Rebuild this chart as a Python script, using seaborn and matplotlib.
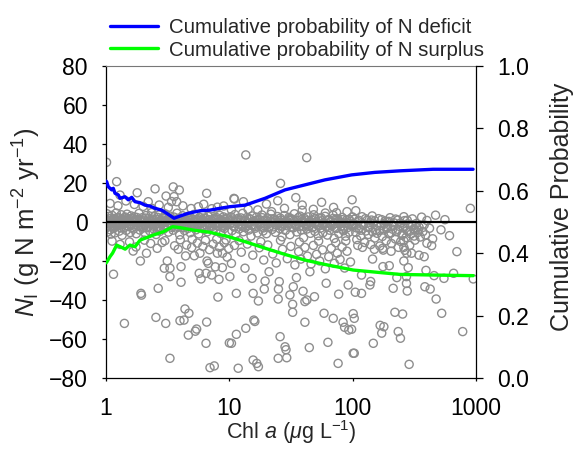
import matplotlib.pyplot as plt
import seaborn as sns
from matplotlib.ticker import NullLocator

# ──────────────────────────────────────────────
# Data
# ──────────────────────────────────────────────

# dense band of lakes around N_I = 0
band_1_10 = [
    (1.00, 1.5), (1.01, -2.8), (1.02, 4.2), (1.03, -5.1), (1.04, 0.3), (1.05, -1.7), (1.06, 2.9), (1.08, -4.0),
    (1.09, 0.9), (1.10, -6.2), (1.12, 3.4), (1.13, -0.8), (1.15, -3.3), (1.16, 1.8), (1.18, -5.6), (1.19, 0.2),
    (1.21, 4.6), (1.22, -2.1), (1.24, -0.4), (1.26, 2.4), (1.28, -4.7), (1.30, 1.1), (1.31, -1.5), (1.33, 3.7),
    (1.35, -6.8), (1.37, 0.6), (1.39, -2.9), (1.41, 2.0), (1.43, -0.9), (1.46, -4.3), (1.48, 4.0), (1.50, 0.1),
    (1.53, -2.4), (1.55, 1.6), (1.57, -5.4), (1.60, 3.1), (1.62, -1.2), (1.65, 0.7), (1.67, -3.6), (1.70, 2.6),
    (1.73, -0.3), (1.76, -6.0), (1.79, 1.3), (1.82, -2.0), (1.85, 4.4), (1.88, -4.1), (1.91, 0.4), (1.94, -1.6),
    (1.97, 2.2), (2.01, -3.0), (2.04, 1.0), (2.08, -5.7), (2.11, 3.3), (2.15, -0.6), (2.19, -2.6), (2.22, 1.9),
    (2.26, -4.5), (2.30, 0.5), (2.34, 4.8), (2.38, -1.4), (2.42, -3.4), (2.46, 2.7), (2.51, -0.1), (2.55, -6.4),
    (2.60, 1.4), (2.64, -2.2), (2.69, 3.6), (2.74, -4.8), (2.79, 0.8), (2.84, -1.0), (2.89, 2.3), (2.94, -3.7),
    (2.99, 0.0), (3.04, 4.1), (3.10, -2.5), (3.15, 1.2), (3.21, -5.2), (3.26, -0.7), (3.32, 3.0), (3.38, -1.9),
    (3.44, 0.6), (3.50, -4.2), (3.56, 2.5), (3.63, -0.2), (3.69, -3.1), (3.76, 4.5), (3.82, -1.1), (3.89, 1.7),
    (3.96, -6.6), (4.03, 0.3), (4.10, -2.7), (4.18, 3.2), (4.25, -0.5), (4.33, -4.4), (4.40, 1.5), (4.48, -1.8),
    (4.56, 2.8), (4.65, -3.2), (4.73, 0.9), (4.82, -5.5), (4.90, 2.1), (4.99, -0.9), (5.08, -2.3), (5.17, 3.9),
    (5.26, 0.2), (5.36, -4.0), (5.45, 1.3), (5.55, -1.3), (5.65, -6.1), (5.75, 2.4), (5.85, -0.4), (5.96, -2.8),
    (6.06, 3.5), (6.17, 0.7), (6.28, -3.9), (6.40, 1.8), (6.51, -1.5), (6.63, -5.0), (6.75, 2.9), (6.87, -0.6),
    (6.99, -2.4), (7.12, 4.3), (7.24, 0.4), (7.37, -3.5), (7.51, 1.6), (7.64, -1.0), (7.78, -4.6), (7.92, 2.2),
    (8.06, -0.3), (8.20, -2.0), (8.35, 3.4), (8.50, -5.8), (8.65, 0.8), (8.81, -1.7), (8.97, 2.6), (9.13, -3.3),
    (9.29, 0.1), (9.46, -0.8), (9.63, 1.9), (9.80, -4.9), (9.97, 0.5),
]

band_10_100 = [
    (10.1, -1.2), (10.3, 2.7), (10.5, -4.4), (10.7, 0.6), (10.9, -2.5), (11.1, 3.8), (11.3, -6.3), (11.6, -0.2),
    (11.8, 1.9), (12.0, -3.6), (12.3, 0.9), (12.5, -1.8), (12.8, 4.4), (13.0, -5.0), (13.3, 0.3), (13.5, -2.9),
    (13.8, 2.2), (14.1, -0.7), (14.4, -4.1), (14.7, 1.4), (15.0, -7.2), (15.3, 3.1), (15.6, -1.4), (15.9, 0.0),
    (16.2, -3.2), (16.6, 2.5), (16.9, -5.6), (17.3, -0.5), (17.6, 1.2), (18.0, -2.2), (18.4, 3.6), (18.8, -4.6),
    (19.2, 0.8), (19.6, -1.0), (20.0, -6.0), (20.4, 2.0), (20.8, -2.7), (21.3, 0.4), (21.7, 4.0), (22.2, -3.8),
    (22.6, -0.3), (23.1, 1.7), (23.6, -5.3), (24.1, -1.6), (24.6, 2.8), (25.1, -0.1), (25.7, -3.4), (26.2, 1.0),
    (26.8, -7.6), (27.3, -1.1), (27.9, 3.3), (28.5, -4.3), (29.1, 0.5), (29.7, -2.0), (30.4, 2.4), (31.0, -6.5),
    (31.7, -0.6), (32.3, 1.5), (33.0, -3.0), (33.7, 4.2), (34.5, -1.3), (35.2, -5.1), (36.0, 0.7), (36.7, -2.4),
    (37.5, 3.0), (38.3, -4.0), (39.1, 0.2), (40.0, -8.0), (40.8, 1.8), (41.7, -1.7), (42.6, -3.6), (43.5, 2.6),
    (44.5, -0.4), (45.4, -5.8), (46.4, 1.1), (47.4, -2.6), (48.4, 3.7), (49.4, -4.8), (50.5, 0.0), (51.6, -1.5),
    (52.7, -7.0), (53.8, 2.1), (55.0, -3.1), (56.2, 0.6), (57.4, -5.5), (58.6, -0.9), (59.8, 2.9), (61.1, -2.3),
    (62.4, -6.7), (63.8, 1.3), (65.1, -4.2), (66.5, 0.3), (68.0, -1.9), (69.4, 3.5), (70.9, -8.4), (72.5, -0.7),
    (74.0, -3.3), (75.6, 1.6), (77.2, -5.9), (78.9, 0.1), (80.6, -2.1), (82.3, 2.3), (84.1, -4.5), (85.9, -0.5),
    (87.7, -7.3), (89.6, 1.0), (91.5, -2.8), (93.5, -5.2), (95.5, 0.4), (97.5, -1.4), (99.6, 2.6), (11.5, 1.0),
    (13.9, -1.9), (16.4, 0.8), (19.0, -3.0), (22.9, 1.2), (26.5, -2.2), (30.8, 0.9), (34.8, -2.0), (38.8, 1.4),
    (44.0, -2.3), (49.9, 1.9), (56.6, -1.1), (64.5, -2.7), (73.2, 1.5), (83.5, -3.8), (94.2, -0.9),
]

band_100_1000 = [
    (101, -2.1), (103, 1.4), (106, -5.3), (108, -9.0), (111, 0.2), (113, -3.4), (116, -7.1), (119, 2.7),
    (122, -1.2), (125, -10.5), (128, -4.6), (131, 0.9), (134, -6.4), (137, -2.5), (140, -11.6), (144, 3.1),
    (147, -0.6), (151, -8.2), (154, -3.9), (158, -5.8), (162, 1.7), (166, -12.3), (170, -1.8), (174, -7.4),
    (178, -4.1), (183, 0.5), (187, -9.6), (192, -2.9), (196, -6.0), (201, 2.2), (206, -11.0), (211, -3.7),
    (216, -0.4), (222, -8.7), (227, -5.0), (233, 1.0), (239, -2.2), (245, -10.0), (251, -6.8), (257, -3.0),
    (263, 0.7), (270, -8.0), (276, -4.4), (283, -1.0), (290, -12.0), (297, -6.2), (305, 1.6), (312, -3.6),
    (320, -9.3), (328, -0.8), (336, -5.4), (345, -2.6), (353, -7.7), (362, 2.5), (371, -4.9), (380, -1.5),
    (390, -6.6), (400, 0.8), (420, -3.2), (445, -8.6), (470, 3.5), (520, -4.0), (560, 1.2), (610, -7.0),
    (150, -14.0), (175, -13.5), (205, -15.0), (235, -13.0), (265, -14.5), (300, -16.0), (120, -13.0), (110, -12.0),
]

# the solid grey core of the band, |N_I| of a few units
band_core = [
    (1.00, -0.6), (1.02, 0.9), (1.04, -2.2), (1.07, 1.7), (1.09, -1.1), (1.11, 0.4), (1.14, -2.6), (1.17, 1.2),
    (1.20, -0.9), (1.23, 2.1), (1.27, -1.9), (1.29, 0.1), (1.32, -3.1), (1.36, 1.4), (1.40, -0.5), (1.44, 2.5),
    (1.47, -2.0), (1.52, 0.8), (1.56, -1.0), (1.61, 1.9), (1.64, -2.8), (1.69, 0.3), (1.74, -1.4), (1.78, 2.3),
    (1.83, -0.7), (1.87, 1.0), (1.92, -2.4), (1.98, 0.6), (2.03, -1.3), (2.09, 2.0), (2.14, -3.0), (2.20, 0.2),
    (2.27, -0.9), (2.33, 1.6), (2.40, -2.1), (2.47, 0.9), (2.53, -1.2), (2.61, 2.4), (2.67, -2.9), (2.76, 0.4),
    (2.82, -0.8), (2.91, 1.8), (2.97, -2.0), (3.07, 0.7), (3.13, -1.6), (3.24, 2.2), (3.30, -0.4), (3.41, -2.7),
    (3.47, 1.1), (3.59, -1.0), (3.66, 0.1), (3.79, -2.3), (3.86, 1.9), (3.99, -0.6), (4.07, -1.7), (4.21, 1.0),
    (4.29, -2.9), (4.44, 0.5), (4.52, -1.2), (4.69, 2.3), (4.78, -0.3), (4.94, -2.0), (5.03, 1.4), (5.21, -1.1),
    (5.31, 0.6), (5.50, -2.6), (5.60, 1.7), (5.80, -0.7), (5.91, 0.3), (6.11, -1.9), (6.22, 2.0), (6.46, -0.2),
    (6.57, -2.5), (6.81, 1.2), (6.93, -1.0), (7.18, 0.6), (7.30, -2.2), (7.57, 2.1), (7.71, -0.5), (7.99, -1.8),
    (8.13, 1.3), (8.42, -0.9), (8.58, 0.2), (8.89, -2.7), (9.05, 1.6), (9.37, -0.4), (9.54, -1.6), (9.89, 1.1),
    (10.2, -0.6), (10.6, 1.5), (11.0, -2.0), (11.4, 0.2), (11.9, -1.1), (12.4, 2.1), (12.9, -2.6), (13.4, 0.7),
    (13.9, -0.4), (14.5, 1.8), (15.1, -1.7), (15.7, 0.5), (16.3, -2.4), (17.0, 1.1), (17.7, -0.9), (18.5, 2.2),
    (19.3, -1.9), (20.1, 0.3), (21.0, -0.8), (21.9, 1.6), (22.8, -2.5), (23.8, 0.8), (24.8, -1.2), (25.9, 2.0),
    (27.0, -2.1), (28.2, 0.1), (29.4, -0.7), (30.7, 1.7), (32.0, -2.8), (33.4, 0.6), (34.9, -1.4), (36.4, 2.3),
    (38.0, -0.3), (39.7, -2.2), (41.4, 1.0), (43.2, -1.0), (45.1, 0.4), (47.1, -2.9), (49.2, 1.5), (51.3, -0.6),
    (53.6, -1.8), (55.9, 2.0), (58.4, -0.2), (61.0, -2.4), (63.6, 0.9), (66.4, -1.3), (69.3, 1.8), (72.4, -3.0),
    (75.5, 0.2), (78.9, -1.0), (82.3, 1.2), (85.9, -2.6), (89.7, -0.4), (93.6, 1.4), (97.7, -1.9), (102, -0.8),
    (107, -3.0), (112, 0.9), (117, -4.2), (122, -1.6), (127, 1.7), (133, -2.8), (139, -0.3), (145, -5.0),
    (151, 0.6), (158, -2.0), (165, -4.4), (172, 1.2), (180, -1.1), (188, -3.4), (196, 0.3), (205, -5.6),
    (214, -1.9), (223, 1.5), (233, -3.8), (243, -0.6), (254, -6.0), (265, -2.3), (277, 0.9), (289, -4.8),
    (302, -1.4), (315, -7.2), (329, -2.9),
]

# scattered lakes above the band
surplus_outliers = [
    (1.01, 30.6), (1.22, 20.7), (1.79, 15.0), (2.5, 17.0), (3.51, 18.0), (3.93, 16.4), (3.56, 13.0), (3.07, 13.3),
    (6.55, 14.7), (2.2, 10.4), (1.3, 13.8), (3.74, 10.4), (13.6, 34.4), (42.4, 33.0), (26.0, 19.8), (11.0, 11.8),
    (13.0, 10.4), (20.0, 9.2), (24.7, 10.9), (34.6, 12.5), (39.0, 8.7), (56.0, 10.1), (99.0, 11.4), (39.0, 6.0),
    (14.2, 6.5), (74.0, 4.8), (106, 5.8), (900, 7.0), (260, 2.7), (10.9, 12.1), (142, 1.0), (190, 0.2),
    (1.08, 9.5), (1.25, 8.3), (1.45, 10.8), (1.7, 9.0), (2.0, 8.0), (2.35, 7.0), (2.7, 8.7), (3.2, 7.5),
    (3.4, 10.5), (4.2, 8.3), (4.9, 6.9), (5.6, 7.8), (6.2, 9.1), (7.2, 6.8), (8.0, 7.6), (9.0, 8.2),
    (17.0, 6.2), (22.0, 5.3), (60.0, 4.6), (90.0, 5.3), (10.4, 6.2), (28.0, 7.0), (48.0, 6.5), (70.0, 7.5),
]

# scattered lakes below the band
deficit_outliers = [
    (1.15, -26.8), (1.92, -36.6), (1.94, -37.5), (1.41, -52.0), (2.65, -34.0), (2.54, -48.9), (3.05, -52.0),
    (3.3, -69.9), (3.98, -50.6), (4.37, -44.6), (4.7, -46.8), (4.29, -50.3), (4.65, -58.0), (5.43, -54.9),
    (5.3, -56.0), (6.55, -51.3), (6.47, -62.2), (6.97, -74.7), (7.55, -73.8), (8.08, -38.5), (4.06, -30.9),
    (3.3, -28.0), (2.97, -23.7), (3.3, -23.7), (4.06, -22.9), (5.7, -26.3), (5.9, -29.2), (6.47, -26.3),
    (7.2, -27.2), (8.25, -29.4), (8.78, -23.4), (7.7, -23.0), (6.75, -21.2), (3.14, -20.0), (2.13, -16.0),
    (1.9, -20.0), (1.66, -14.9), (4.42, -17.4), (5.2, -17.3), (5.78, -16.0), (6.6, -20.0), (8.0, -16.0),
    (8.8, -16.0), (9.6, -18.0), (10.1, -28.0), (10.0, -62.0),
    (1.3, -11.5), (1.55, -10.2), (1.75, -12.8), (2.3, -11.0), (2.6, -13.5), (2.85, -10.5), (3.6, -12.2),
    (3.85, -14.0), (4.5, -11.8), (4.95, -13.1), (5.5, -10.8), (6.1, -12.5), (6.9, -14.2), (7.4, -11.3),
    (8.3, -12.9), (9.1, -10.6), (9.9, -13.6), (1.12, -9.8), (2.05, -9.3), (3.0, -9.6), (4.0, -9.1),
    (5.0, -8.9), (6.4, -9.4), (7.9, -8.8), (9.4, -9.2),
    (11.4, -36.6), (10.4, -62.2), (11.4, -57.6), (13.6, -54.5), (11.8, -75.0), (15.6, -70.8), (17.2, -74.2),
    (16.7, -72.5), (15.8, -50.3), (16.1, -51.0), (15.6, -36.6), (17.2, -40.5), (15.3, -28.9), (19.5, -30.3),
    (19.2, -34.4), (24.9, -39.5), (25.4, -30.6), (31.0, -37.4), (32.6, -42.2), (32.6, -46.3), (33.0, -33.2),
    (35.0, -28.5), (41.0, -40.8), (42.5, -40.0), (49.0, -38.3), (41.0, -51.4), (25.8, -58.8), (28.3, -64.0),
    (28.8, -65.5), (24.9, -69.9), (29.2, -69.6), (44.5, -64.4), (58.6, -46.8), (63.0, -61.7), (69.6, -49.4),
    (76.2, -72.5), (83.6, -51.4), (86.0, -54.0), (93.0, -55.4), (101.0, -67.3), (101.0, -47.0), (92.0, -32.3),
    (77.0, -37.0), (61.0, -31.4), (45.0, -25.5), (39.6, -35.5), (25.0, -34.4), (21.0, -25.5), (13.4, -23.7),
    (10.4, -21.2),
    (11.0, -12.0), (12.5, -15.5), (14.0, -11.3), (15.5, -17.0), (17.5, -13.2), (19.0, -19.5), (20.5, -11.8),
    (22.5, -16.4), (24.0, -21.0), (27.0, -14.0), (29.5, -18.8), (31.5, -12.5), (34.0, -22.0), (36.5, -15.2),
    (38.0, -19.0), (41.0, -13.0), (43.0, -17.5), (46.0, -21.5), (48.0, -12.0), (51.0, -16.6), (54.0, -20.0),
    (57.0, -14.3), (60.0, -24.0), (64.0, -17.8), (67.0, -13.5), (71.0, -21.2), (75.0, -16.0), (79.0, -19.2),
    (82.0, -12.8), (86.0, -23.6), (90.0, -15.0), (96.0, -20.5), (12.0, -9.5), (18.0, -10.1), (26.0, -9.4),
    (37.0, -10.3), (53.0, -9.8), (73.0, -10.6), (88.0, -9.7),
    (103, -67.3), (103, -49.4), (98, -55.0), (147, -62.2), (172, -57.0), (179, -53.7), (234, -56.2),
    (244, -59.6), (287, -73.0), (220, -46.3), (254, -47.2), (527, -46.8), (780, -56.2), (475, -39.5),
    (213, -34.0), (277, -35.4), (273, -31.5), (273, -28.0), (385, -33.2), (425, -34.4), (393, -24.8),
    (228, -28.5), (282, -23.4), (457, -27.5), (550, -28.9), (658, -26.3), (950, -29.2), (138, -32.3),
    (140, -30.5), (105, -36.0), (118, -27.2), (176, -22.9), (198, -22.4), (260, -20.0), (700, -15.2),
    (437, -12.1), (400, -10.9), (340, -4.1), (320, -4.1), (380, -17.8), (345, -17.0), (275, -16.0),
    (260, -9.6), (260, -13.0), (177, -14.4), (145, -19.0), (167, -53.0), (118, -36.6),
]

# cumulative probability curves (right axis)
deficit_chl = [1.0, 1.013, 1.044, 1.112, 1.146, 1.183, 1.258, 1.298, 1.426, 1.516, 1.616, 1.718, 1.886,
               2.07, 2.27, 2.495, 2.83, 3.10, 3.56, 3.98, 4.65, 5.78, 6.97, 8.4, 10.1, 13.4, 19.5,
               28.3, 41, 59.5, 98, 151, 242, 449, 947]
deficit_prob = [0.631, 0.629, 0.613, 0.603, 0.608, 0.592, 0.587, 0.576, 0.581, 0.571, 0.579, 0.565, 0.562,
                0.554, 0.551, 0.544, 0.538, 0.528, 0.512, 0.519, 0.528, 0.536, 0.538, 0.544, 0.549, 0.554,
                0.576, 0.603, 0.619, 0.635, 0.651, 0.659, 0.664, 0.669, 0.669]

surplus_chl = [1.0, 1.013, 1.078, 1.13, 1.22, 1.30, 1.43, 1.565, 1.72, 1.89, 2.14, 2.42, 2.92, 3.47,
               3.98, 5.1, 6.97, 9.8, 13.4, 19.5, 28.3, 41, 59.5, 101, 138, 242, 450, 950]
surplus_prob = [0.369, 0.371, 0.389, 0.400, 0.426, 0.421, 0.413, 0.426, 0.421, 0.442, 0.450, 0.458, 0.469,
                0.485, 0.482, 0.474, 0.467, 0.453, 0.437, 0.416, 0.396, 0.378, 0.364, 0.346, 0.341,
                0.332, 0.330, 0.328]

x_ticks = [1, 10, 100, 1000]
x_tick_labels = ["1", "10", "100", "1000"]
y_ticks = [-80, -60, -40, -20, 0, 20, 40, 60, 80]
p_ticks = [0.0, 0.2, 0.4, 0.6, 0.8, 1.0]
p_tick_labels = ["0.0", "0.2", "0.4", "0.6", "0.8", "1.0"]

# ──────────────────────────────────────────────
# Figure
# ──────────────────────────────────────────────

sns.set_theme(style="ticks")
plt.rcParams["font.family"] = ["Liberation Sans", "DejaVu Sans"]
plt.rcParams["mathtext.fontset"] = "custom"
plt.rcParams["mathtext.rm"] = "Liberation Sans"
plt.rcParams["mathtext.it"] = "Liberation Sans:italic"

points = band_1_10 + band_10_100 + band_100_1000 + band_core + surplus_outliers + deficit_outliers
chl = [p[0] for p in points]
ni = [p[1] for p in points]

fig = plt.figure(figsize=(5.79, 4.53), dpi=100)
ax = fig.add_axes([106 / 579, 1 - 378 / 453, 370 / 579, 312 / 453])

sns.scatterplot(x=chl, y=ni, ax=ax, marker="o", s=34, facecolor="none",
                edgecolor="#8e8e8e", linewidth=1.0, legend=False, zorder=2)
ax.axhline(0, color="black", lw=1.6, zorder=3)

ax.set_xscale("log")
ax.set_xlim(1, 1000)
ax.set_ylim(-80, 80)
ax.set_xticks(x_ticks, labels=x_tick_labels)
ax.xaxis.set_minor_locator(NullLocator())
ax.set_yticks(y_ticks)
ax.tick_params(axis="x", direction="out", length=2.5, width=0.9, labelsize=16.5, pad=11, colors="black")
ax.tick_params(axis="y", direction="out", length=3, width=0.9, labelsize=16.5, pad=10, colors="black")
ax.set_xlabel("Chl $\\it{a}$ ($\\mu$g L$^{-1}$)", fontsize=15.5)
ax.xaxis.set_label_coords(0.5, -0.13)
ax.set_ylabel("$N_\\mathrm{I}$ (g N m$^{-2}$ yr$^{-1}$)", fontsize=18.5)
ax.yaxis.set_label_coords(-0.17, 0.5)
for side in ["left", "bottom"]:
    ax.spines[side].set_color("black")
    ax.spines[side].set_linewidth(0.9)
ax.spines["top"].set_color("#777777")
ax.spines["top"].set_linewidth(0.8)
ax.spines["right"].set_visible(False)

ax2 = ax.twinx()
sns.lineplot(x=deficit_chl, y=deficit_prob, ax=ax2, color="#0000ff", lw=2.4,
             label="Cumulative probability of N deficit")
sns.lineplot(x=surplus_chl, y=surplus_prob, ax=ax2, color="#00ff00", lw=2.4,
             label="Cumulative probability of N surplus")
ax2.set_ylim(0, 1)
ax2.set_yticks(p_ticks, labels=p_tick_labels)
ax2.tick_params(axis="y", direction="out", length=5, width=0.9, labelsize=16.5, pad=10, colors="black")
ax2.set_ylabel("Cumulative Probability", fontsize=18)
ax2.yaxis.set_label_coords(1.2, 0.55)
for side in ["left", "top", "bottom"]:
    ax2.spines[side].set_visible(False)
ax2.spines["right"].set_color("black")
ax2.spines["right"].set_linewidth(0.9)

handles, labels = ax2.get_legend_handles_labels()
ax2.get_legend().remove()
fig.legend(handles, labels, loc="upper left", bbox_to_anchor=(0.19, 0.96), frameon=False,
           fontsize=14.7, handlelength=2.35, handletextpad=0.55, labelspacing=0.17,
           borderpad=0, borderaxespad=0)

fig.savefig("out.png", dpi=100)
